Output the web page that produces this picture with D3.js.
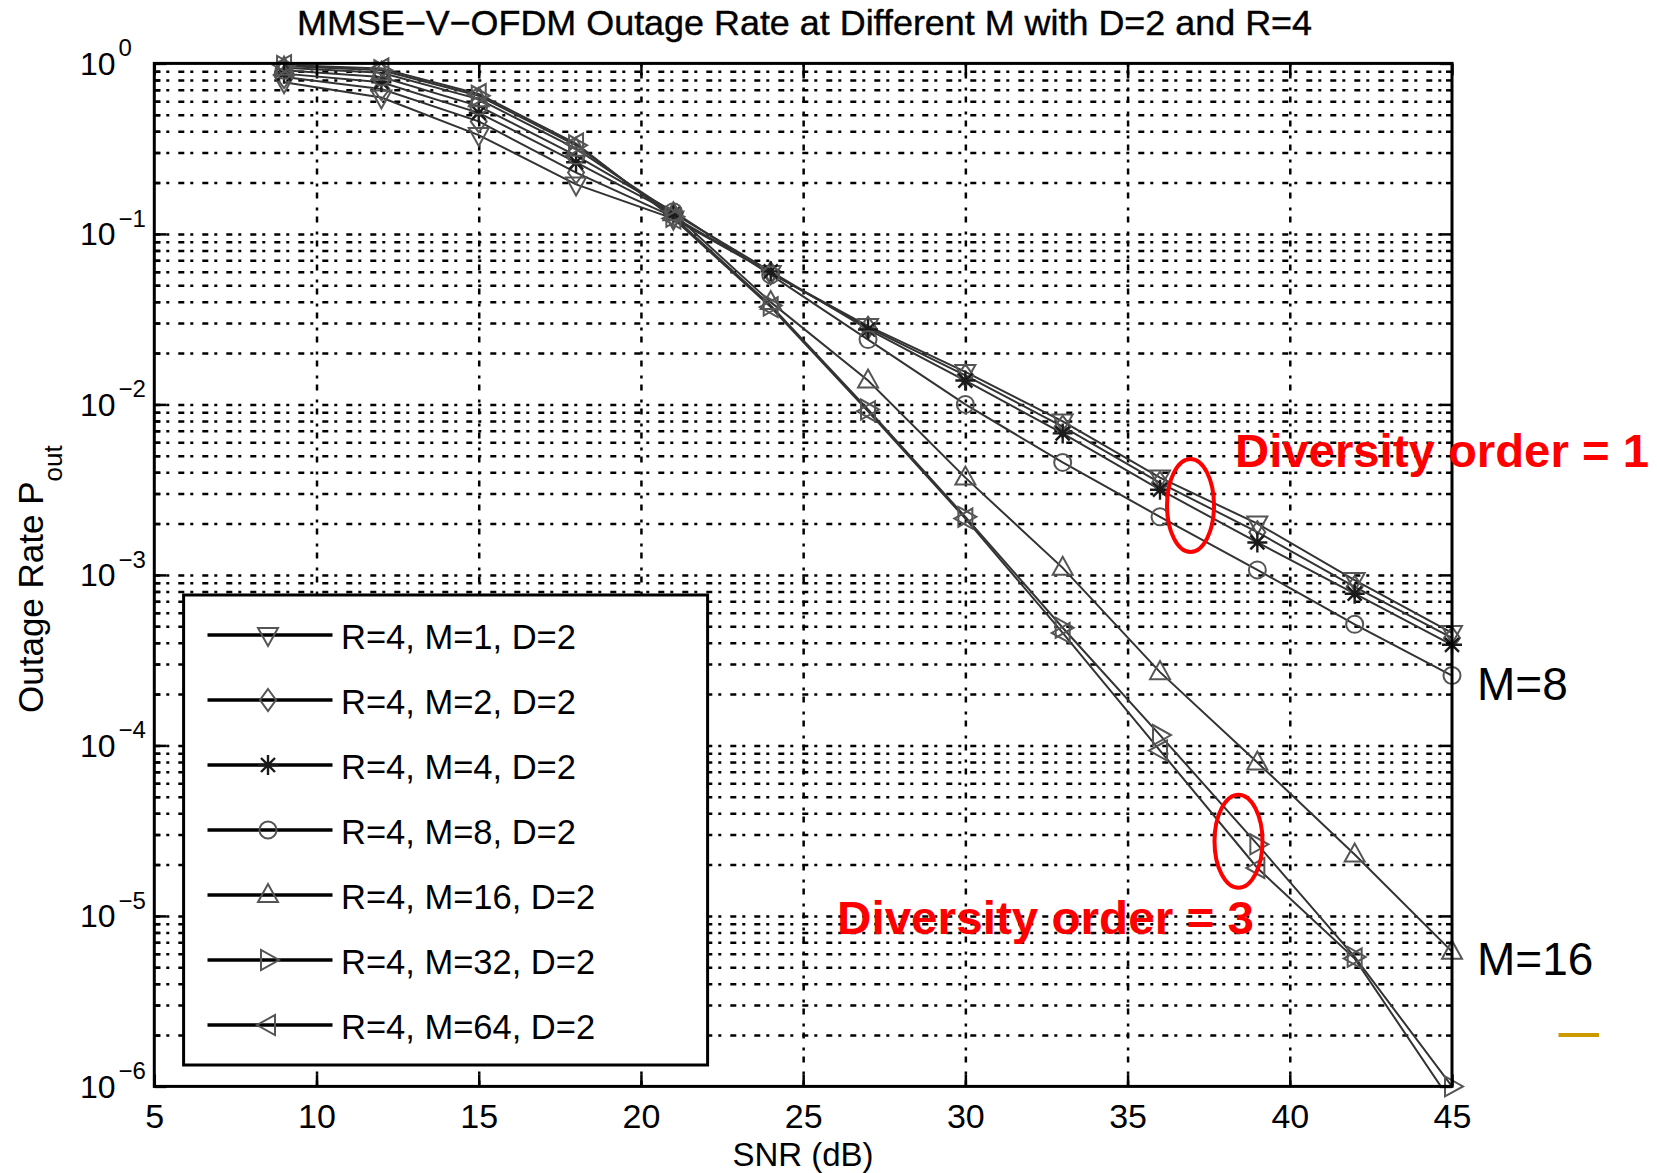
<!DOCTYPE html>
<html><head><meta charset="utf-8">
<script src="https://cdn.jsdelivr.net/npm/d3@7"></script>
<style>
html,body{margin:0;padding:0;background:#fff;}
svg{display:block;font-family:"Liberation Sans", Arial, sans-serif;}
</style></head><body>
<svg id="chart" width="1657" height="1173"></svg>
<script>
// ---------------- data ----------------
const snr = [9, 12, 15, 18, 21, 24, 27, 30, 33, 36, 39, 42, 45];
const pM1  = [0.776, 0.631, 0.380, 0.195, 0.123, 0.0589, 0.0288, 0.0155, 0.00794, 0.00372, 0.00200, 0.000933, 0.000457];
const pM2  = [0.832, 0.708, 0.457, 0.229, 0.126, 0.0589, 0.0282, 0.0148, 0.00741, 0.00347, 0.00178, 0.000851, 0.000427];
const pM4  = [0.871, 0.776, 0.513, 0.263, 0.132, 0.0603, 0.0275, 0.0138, 0.00676, 0.00316, 0.00155, 0.000776, 0.000389];
const pM8  = [0.912, 0.832, 0.562, 0.288, 0.135, 0.0575, 0.0240, 0.0100, 0.00457, 0.00219, 0.00107, 0.000513, 0.000257];
const pM16 = [0.944, 0.881, 0.617, 0.316, 0.132, 0.0398, 0.0138, 0.00372, 0.00110, 0.000269, 0.0000794, 0.0000229, 0.00000617];
const pM32 = [0.966, 0.912, 0.646, 0.331, 0.126, 0.0380, 0.00933, 0.00219, 0.00049, 0.000115, 0.0000263, 0.00000575, 0.000001];
const pM64 = [0.977, 0.933, 0.661, 0.339, 0.123, 0.0372, 0.00912, 0.00214, 0.000457, 0.0000933, 0.0000191, 0.00000562, 0.0000008];
const seriesNames = ["R=4, M=1, D=2", "R=4, M=2, D=2", "R=4, M=4, D=2", "R=4, M=8, D=2", "R=4, M=16, D=2", "R=4, M=32, D=2", "R=4, M=64, D=2"];
const seriesMarkers = ["tridown", "diamond", "asterisk", "circle", "triup", "triright", "trileft"];
const seriesValues = [pM1, pM2, pM4, pM8, pM16, pM32, pM64];
const xTicks = [5, 10, 15, 20, 25, 30, 35, 40, 45];
const yTickExps = [0, -1, -2, -3, -4, -5, -6];
const titleText = "MMSE\u2212V\u2212OFDM Outage Rate at Different M with D=2 and R=4";
const xLabel = "SNR (dB)";
const yLabelMain = "Outage Rate P";
const yLabelSub = "out";
const noteTop = "Diversity order = 1";
const noteBottom = "Diversity order = 3";
const sideLabels = ["M=8", "M=16"];

// ---------------- layout ----------------
const L = 154.3, R = 1452, T = 63.4, B = 1086.4;
const x = d3.scaleLinear().domain([5, 45]).range([L, R]);
const y = d3.scaleLog().domain([1e-6, 1]).range([B, T]);
const svg = d3.select("#chart");

const majorVals = yTickExps.map(e => Math.pow(10, e));
const minorVals = [];
for (let e = -6; e < 0; e++) for (let k = 2; k <= 9; k++) minorVals.push(k * Math.pow(10, e));

const dash = "6,6,3,9";
function gridStyle(g) {
  g.select(".domain").remove();
  g.selectAll("line").attr("stroke", "#000").attr("stroke-width", 2.5).attr("stroke-dasharray", dash);
}

// horizontal grid (major + minor)
svg.append("g").attr("transform", `translate(${L},0)`)
  .call(d3.axisLeft(y).tickValues(majorVals.concat(minorVals).filter(v => v > 1e-6 && v < 1)).tickSize(-(R - L)).tickFormat(""))
  .call(gridStyle);
// vertical grid
svg.append("g").attr("transform", `translate(0,${B})`)
  .call(d3.axisBottom(x).tickValues(xTicks.filter(v => v > 5 && v < 45)).tickSize(-(B - T)).tickFormat(""))
  .call(gridStyle);

// clip
svg.append("clipPath").attr("id", "plotclip").append("rect")
  .attr("x", L).attr("y", T).attr("width", R - L).attr("height", B - T);

// lines
const line = d3.line().x(d => x(d[0])).y(d => y(d[1]));
const gLines = svg.append("g").attr("clip-path", "url(#plotclip)");
seriesValues.forEach((vals, i) => {
  gLines.append("path").datum(snr.map((s, j) => [s, vals[j]]))
    .attr("d", line).attr("fill", "none").attr("stroke", "#333").attr("stroke-width", 2);
});

function markerPath(type) {
  switch (type) {
    case "tridown": return "M-10,-7L10,-7L0,11Z";
    case "triup": return "M-10,7L10,7L0,-11Z";
    case "triright": return "M-7,-10L-7,10L11,0Z";
    case "trileft": return "M7,-10L7,10L-11,0Z";
    case "diamond": return "M0,-11L8,0L0,11L-8,0Z";
    case "circle": return "M8.5,0A8.5,8.5 0 1,1 -8.5,0A8.5,8.5 0 1,1 8.5,0Z";
    case "asterisk": return "M0,-10V10M-10,0H10M-7,-7L7,7M-7,7L7,-7";
  }
}
function markerStroke(type) { return type === "asterisk" ? "#1a1a1a" : "#555"; }

// markers
const gMarks = svg.append("g");
seriesValues.forEach((vals, i) => {
  const type = seriesMarkers[i];
  gMarks.selectAll(null).data(snr.map((s, j) => [s, vals[j]]).filter(d => d[1] >= 1e-6))
    .enter().append("path")
    .attr("transform", d => `translate(${x(d[0])},${y(d[1])})`)
    .attr("d", markerPath(type)).attr("fill", "none")
    .attr("stroke", markerStroke(type)).attr("stroke-width", type === "asterisk" ? 2.4 : 2);
});

// frame
svg.append("rect").attr("x", L).attr("y", T).attr("width", R - L).attr("height", B - T)
  .attr("fill", "none").attr("stroke", "#000").attr("stroke-width", 3);

function tickStyle(g) {
  g.select(".domain").remove();
  g.selectAll("line").attr("stroke", "#000").attr("stroke-width", 2.5);
}
// bottom axis with labels
svg.append("g").attr("transform", `translate(0,${B})`)
  .call(d3.axisBottom(x).tickValues(xTicks).tickSize(-12).tickPadding(17))
  .call(tickStyle)
  .call(g => g.selectAll("text").attr("font-size", 34).attr("font-family", "Liberation Sans, Arial, sans-serif").attr("fill", "#000"));
// top axis ticks
svg.append("g").attr("transform", `translate(0,${T})`)
  .call(d3.axisTop(x).tickValues(xTicks).tickSize(-12).tickFormat(""))
  .call(tickStyle);
// left major with labels
svg.append("g").attr("transform", `translate(${L},0)`)
  .call(d3.axisLeft(y).tickValues(majorVals).tickSize(-12))
  .call(tickStyle)
  .call(g => {
    g.selectAll(".tick text").each(function (d) {
      const t = d3.select(this);
      const e = Math.round(Math.log10(d));
      t.text(null).attr("x", 80 - L).attr("y", 11).attr("dy", null)
        .attr("text-anchor", "start").attr("font-size", 32)
        .attr("font-family", "Liberation Sans, Arial, sans-serif").attr("fill", "#000");
      t.append("tspan").text("10");
      t.append("tspan").attr("dx", 3).attr("dy", -18.5).attr("font-size", 24)
        .text(e < 0 ? "\u2212" + Math.abs(e) : String(e));
    });
  });
// left minor
svg.append("g").attr("transform", `translate(${L},0)`)
  .call(d3.axisLeft(y).tickValues(minorVals).tickSize(-6).tickFormat(""))
  .call(tickStyle);
// right major/minor
svg.append("g").attr("transform", `translate(${R},0)`)
  .call(d3.axisRight(y).tickValues(majorVals).tickSize(-12).tickFormat(""))
  .call(tickStyle);
svg.append("g").attr("transform", `translate(${R},0)`)
  .call(d3.axisRight(y).tickValues(minorVals).tickSize(-6).tickFormat(""))
  .call(tickStyle);

// title & axis labels
svg.append("text").attr("x", 297).attr("y", 35).attr("font-size", 35)
  .attr("textLength", 1015).attr("lengthAdjust", "spacingAndGlyphs").attr("fill", "#000")
  .attr("stroke", "#000").attr("stroke-width", 0.4).text(titleText);
svg.append("text").attr("x", 803).attr("y", 1166).attr("text-anchor", "middle")
  .attr("font-size", 33).attr("fill", "#000").text(xLabel);
const yl = svg.append("text").attr("transform", "translate(43,713) rotate(-90)")
  .attr("font-size", 35).attr("fill", "#000");
yl.append("tspan").text(yLabelMain);
yl.append("tspan").attr("font-size", 26).attr("dy", 19).text(yLabelSub);

// legend
const lg = svg.append("g");
lg.append("rect").attr("x", 183.6).attr("y", 595).attr("width", 524).attr("height", 470)
  .attr("fill", "#fff").attr("stroke", "#000").attr("stroke-width", 3);
seriesNames.forEach((name, i) => {
  const cy = 635 + i * 65;
  lg.append("line").attr("x1", 207.5).attr("x2", 332.5).attr("y1", cy).attr("y2", cy)
    .attr("stroke", "#000").attr("stroke-width", 3.5);
  const type = seriesMarkers[i];
  lg.append("path").attr("transform", `translate(268,${cy})`).attr("d", markerPath(type))
    .attr("fill", "none").attr("stroke", markerStroke(type)).attr("stroke-width", type === "asterisk" ? 2.4 : 2);
  lg.append("text").attr("x", 341).attr("y", cy + 14).attr("font-size", 34.5).attr("fill", "#000").text(name);
});

// annotations
svg.append("ellipse").attr("cx", 1190.5).attr("cy", 505.5).attr("rx", 23.5).attr("ry", 46.5)
  .attr("fill", "none").attr("stroke", "#ff0000").attr("stroke-width", 4);
svg.append("ellipse").attr("cx", 1238.5).attr("cy", 841.3).attr("rx", 24).attr("ry", 46.5)
  .attr("fill", "none").attr("stroke", "#ff0000").attr("stroke-width", 4);
svg.append("text").attr("x", 1235).attr("y", 467).attr("font-size", 46).attr("font-weight", "bold")
  .attr("textLength", 414).attr("lengthAdjust", "spacingAndGlyphs").attr("fill", "#ff0000").text(noteTop);
svg.append("text").attr("x", 837).attr("y", 934).attr("font-size", 46).attr("font-weight", "bold")
  .attr("textLength", 417).attr("lengthAdjust", "spacingAndGlyphs").attr("fill", "#ff0000").text(noteBottom);
svg.append("text").attr("x", 1477).attr("y", 700).attr("font-size", 46).attr("fill", "#000").text(sideLabels[0]);
svg.append("text").attr("x", 1477).attr("y", 975).attr("font-size", 46).attr("fill", "#000").text(sideLabels[1]);
svg.append("rect").attr("x", 1558.5).attr("y", 1033).attr("width", 40.5).attr("height", 4).attr("fill", "#cc9900");
</script>
</body></html>
